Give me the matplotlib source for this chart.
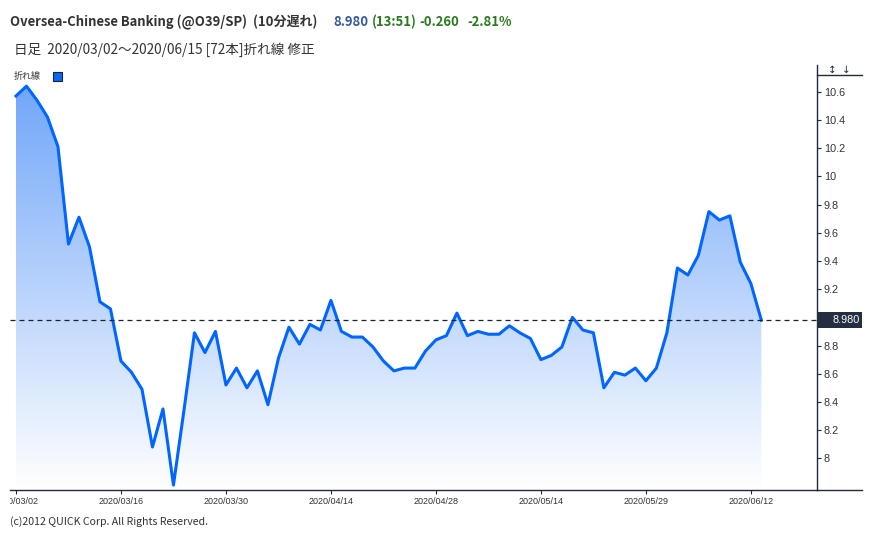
import numpy as np
import matplotlib
matplotlib.use("Agg")
import matplotlib.pyplot as plt
from matplotlib.colors import LinearSegmentedColormap
from matplotlib.patches import Rectangle
from matplotlib.lines import Line2D
from matplotlib.transforms import blended_transform_factory

plt.rcParams['font.family'] = ['Noto Sans CJK JP', 'DejaVu Sans']

# -----------------------------------------
# data (daily close, 72 sessions)
# -----------------------------------------
mar_days = ["02", "03", "04", "05", "06", "09", "10", "11", "12", "13", "16",
            "17", "18", "19", "20", "23", "24", "25", "26", "27", "30", "31"]
apr_days = ["01", "02", "03", "06", "07", "08", "09", "13", "14", "15", "16",
            "17", "20", "21", "22", "23", "24", "27", "28", "29", "30"]
may_days = ["04", "05", "06", "08", "11", "12", "13", "14", "15", "18", "19",
            "20", "21", "22", "26", "27", "28", "29"]
jun_days = ["01", "02", "03", "04", "05", "08", "09", "10", "11", "12", "15"]

dates = ([f"2020/03/{d}" for d in mar_days] + [f"2020/04/{d}" for d in apr_days]
         + [f"2020/05/{d}" for d in may_days] + [f"2020/06/{d}" for d in jun_days])

closes = [10.57, 10.64, 10.54, 10.42, 10.21, 9.52, 9.71, 9.50, 9.11, 9.06,
          8.69, 8.61, 8.49, 8.08, 8.35, 7.81, 8.34, 8.89, 8.75, 8.90,
          8.52, 8.64, 8.50, 8.62, 8.38, 8.71, 8.93, 8.81, 8.95, 8.91,
          9.12, 8.90, 8.86, 8.86, 8.79, 8.69, 8.62, 8.64, 8.64, 8.76,
          8.84, 8.87, 9.03, 8.87, 8.90, 8.88, 8.88, 8.94, 8.89, 8.85,
          8.70, 8.73, 8.79, 9.00, 8.91, 8.89, 8.50, 8.61, 8.59, 8.64,
          8.55, 8.64, 8.89, 9.35, 9.30, 9.44, 9.75, 9.69, 9.72, 9.39,
          9.24, 8.98]

last_price = 8.980
y_ticks = [8.0, 8.2, 8.4, 8.6, 8.8, 9.2, 9.4, 9.6, 9.8, 10.0, 10.2, 10.4, 10.6]

# -----------------------------------------
# figure / axes
# -----------------------------------------
W, H = 873, 539
fig = plt.figure(figsize=(W / 100, H / 100), dpi=100)
fig.patch.set_facecolor("white")


def fx(px):
    return px / W


def fy(py):
    return 1 - py / H


ax = fig.add_axes([fx(10), fy(490), fx(817) - fx(10), fy(65) - fy(490)])
ax.set_facecolor("white")

x = np.arange(len(closes))
y0, y1 = 7.775, 10.79
x0, x1 = -0.57, 76.3

# gradient fill under the line
poly = ax.fill_between(x, closes, y0, color="none", lw=0)
cmap = LinearSegmentedColormap.from_list("fill", ["#ffffff", "#6aa2f9"])
grad = np.linspace(0, 1, 256).reshape(-1, 1)
im = ax.imshow(grad, extent=[x0, x1, y0, y1], origin="lower", aspect="auto",
               cmap=cmap, zorder=1, interpolation="bilinear")
im.set_clip_path(poly.get_paths()[0], transform=ax.transData)

ax.plot(x, closes, color="#0066ff", lw=2.2, zorder=3, solid_joinstyle="round")
ax.axhline(last_price, color="#1b2333", lw=0.9, ls=(0, (4, 3.2)), zorder=4)

ax.set_xlim(x0, x1)
ax.set_ylim(y0, y1)

# axes styling
for s in ["top", "left"]:
    ax.spines[s].set_visible(False)
ax.spines["right"].set_color("#1f2a3a")
ax.spines["bottom"].set_color("#1f2a3a")
ax.spines["right"].set_linewidth(1.0)
ax.spines["bottom"].set_linewidth(1.0)

ax.yaxis.tick_right()
ax.set_yticks(y_ticks)
ax.set_yticklabels([f"{v:g}" for v in y_ticks], family="Liberation Sans",
                   fontsize=7.8, color="#333333")
ax.tick_params(axis="y", direction="out", length=3, width=0.8, color="#1f2a3a", pad=2)

tick_idx = list(range(0, len(dates), 10))
ax.set_xticks(tick_idx)
ax.set_xticklabels([dates[i] for i in tick_idx], family="Liberation Sans",
                   fontsize=6.5, color="#333333")
ax.tick_params(axis="x", direction="out", length=3, width=0.8, color="#1f2a3a", pad=2)

# clip the first date label at the chart's left edge
clip_rect = Rectangle((fx(10), 0), 1, 1, transform=fig.transFigure)
for lbl in ax.get_xticklabels():
    lbl.set_clip_path(clip_rect)

# last-price box on the right axis
blend = blended_transform_factory(fig.transFigure, ax.transData)
box_h = 16 / 141
ax.add_patch(Rectangle((fx(817), last_price - box_h / 2), fx(862) - fx(817), box_h,
                       transform=blend, facecolor="#232f40", edgecolor="none",
                       clip_on=False, zorder=6))
ax.text(fx(860), last_price, "8.980", transform=blend, ha="right", va="center",
        family="Liberation Sans", fontsize=7.8, color="white", zorder=7, clip_on=False)

# extra frame pieces of the right panel
fig.add_artist(Line2D([fx(817), fx(862)], [fy(490), fy(490)], color="#1f2a3a", lw=1.0))
fig.add_artist(Line2D([fx(817), fx(862)], [fy(75.5), fy(75.5)], color="#1f2a3a", lw=1.0))
fig.text(fx(832), fy(70), "↕", ha="center", va="center", fontsize=7.5,
         family="DejaVu Sans", color="#1f2a3a")
fig.text(fx(846), fy(70), "↓", ha="center", va="center", fontsize=7.5,
         family="DejaVu Sans", color="#1f2a3a")

# -----------------------------------------
# header texts
# -----------------------------------------
hdr = 9.4
fig.text(fx(10), fy(22), "Oversea-Chinese Banking (@O39/SP)  (10分遅れ)",
         ha="left", va="center", fontsize=hdr, weight="bold", color="#333333")
fig.text(fx(333), fy(22), "8.980", ha="left", va="center", fontsize=hdr,
         weight="bold", color="#3a5a9e")
fig.text(fx(372), fy(22), "(13:51)", ha="left", va="center", fontsize=hdr,
         weight="bold", color="#2b7a1d")
fig.text(fx(419), fy(22), "-0.260", ha="left", va="center", fontsize=hdr,
         weight="bold", color="#2b7a1d")
fig.text(fx(467), fy(22), "-2.81%", ha="left", va="center", fontsize=hdr,
         weight="bold", color="#2b7a1d")

fig.text(fx(14), fy(50), "日足  2020/03/02～2020/06/15 [72本]折れ線 修正",
         ha="left", va="center", fontsize=9.8, color="#333333")

# legend
fig.text(fx(14), fy(76), "折れ線", ha="left", va="center", fontsize=6.5, color="#333333")
fig.add_artist(Rectangle((fx(53), fy(80.5)), fx(62) - fx(53), fy(71.5) - fy(80.5),
                         transform=fig.transFigure, facecolor="#0a66ff",
                         edgecolor="#222222", lw=0.8))

# footer
fig.text(fx(10), fy(522), "(c)2012 QUICK Corp. All Rights Reserved.", ha="left",
         va="center", fontsize=7.6, color="#333333")

fig.savefig("out.png", dpi=100)
